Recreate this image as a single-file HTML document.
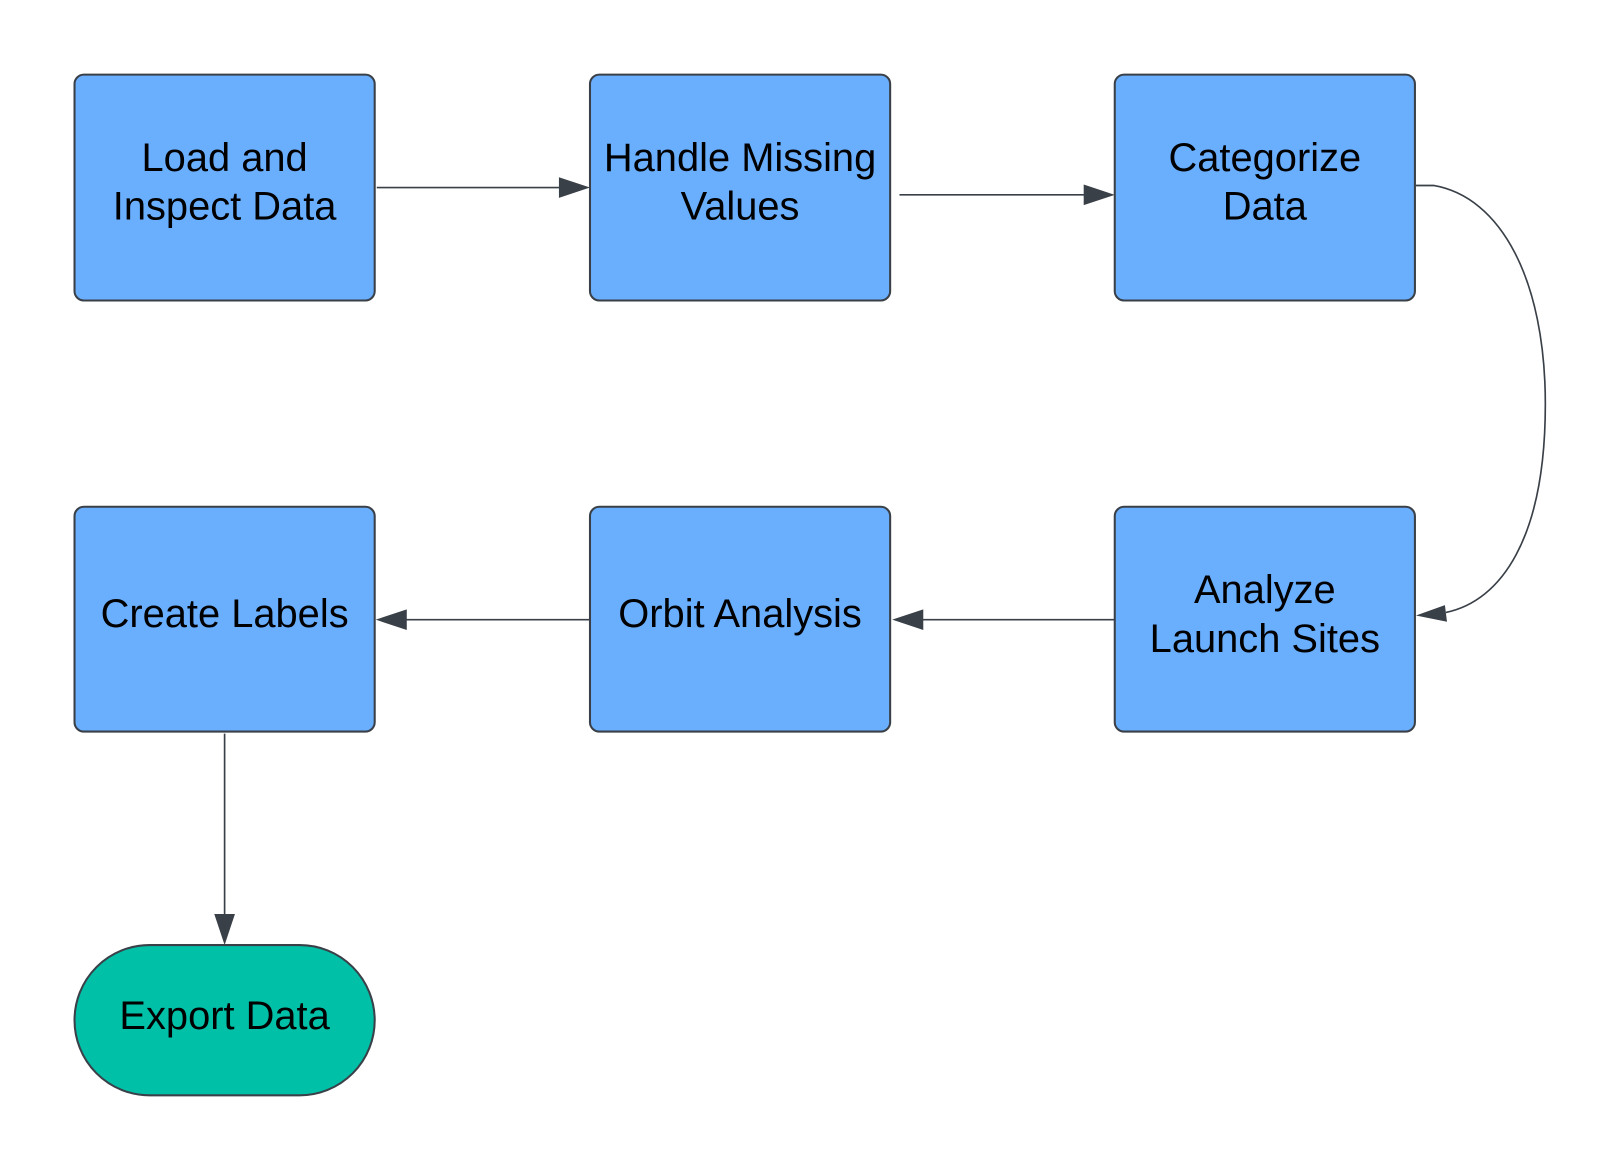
<!DOCTYPE html>
<html><head><style>html,body{margin:0;padding:0;background:#fff;}svg{display:block}</style></head>
<body>
<svg width="1624" height="1172" viewBox="0 0 1569 1131" preserveAspectRatio="none" xmlns="http://www.w3.org/2000/svg" font-family="Liberation Sans, Arial, sans-serif" font-size="38.5">
<g fill="#6aaefe" stroke="#3a4048" stroke-width="2">
<rect x="72" y="72" width="290" height="218" rx="9"/>
<rect x="570" y="72" width="290" height="218" rx="9"/>
<rect x="1077" y="72" width="290" height="218" rx="9"/>
<rect x="72" y="489" width="290" height="217" rx="9"/>
<rect x="570" y="489" width="290" height="217" rx="9"/>
<rect x="1077" y="489" width="290" height="217" rx="9"/>
</g>
<rect x="72" y="912" width="290" height="145" rx="72.5" fill="#00c1a8" stroke="#3a4048" stroke-width="2"/>
<g fill="none" stroke="#3a4048" stroke-width="1.6">
<path d="M364 181 L542 181"/>
<path d="M869 188 L1049 188"/>
<path d="M1368 179 L1385 179 C1450 190 1493 270 1493 390 C1493 520 1450 580 1397 591"/>
<path d="M1077 598 L890 598"/>
<path d="M570 598 L392 598"/>
<path d="M217 708 L217 884"/>
</g>
<g fill="#3a4048">
<polygon points="570,181 540,171 540,191"/>
<polygon points="1077,188 1047,178 1047,198"/>
<polygon points="1368,594 1396,584 1398,600"/>
<polygon points="862,598 892,588 892,608"/>
<polygon points="363,598 393,588 393,608"/>
<polygon points="217,912 207,882 227,882"/>
</g>
<g fill="#000" text-anchor="middle">
<text x="217" y="165">Load and</text><text x="217" y="212">Inspect Data</text>
<text x="715" y="165">Handle Missing</text><text x="715" y="212">Values</text>
<text x="1222" y="165">Categorize</text><text x="1222" y="212">Data</text>
<text x="217" y="605">Create Labels</text>
<text x="715" y="605">Orbit Analysis</text>
<text x="1222" y="582">Analyze</text><text x="1222" y="629">Launch Sites</text>
<text x="217" y="993">Export Data</text>
</g>
</svg>
</body></html>
